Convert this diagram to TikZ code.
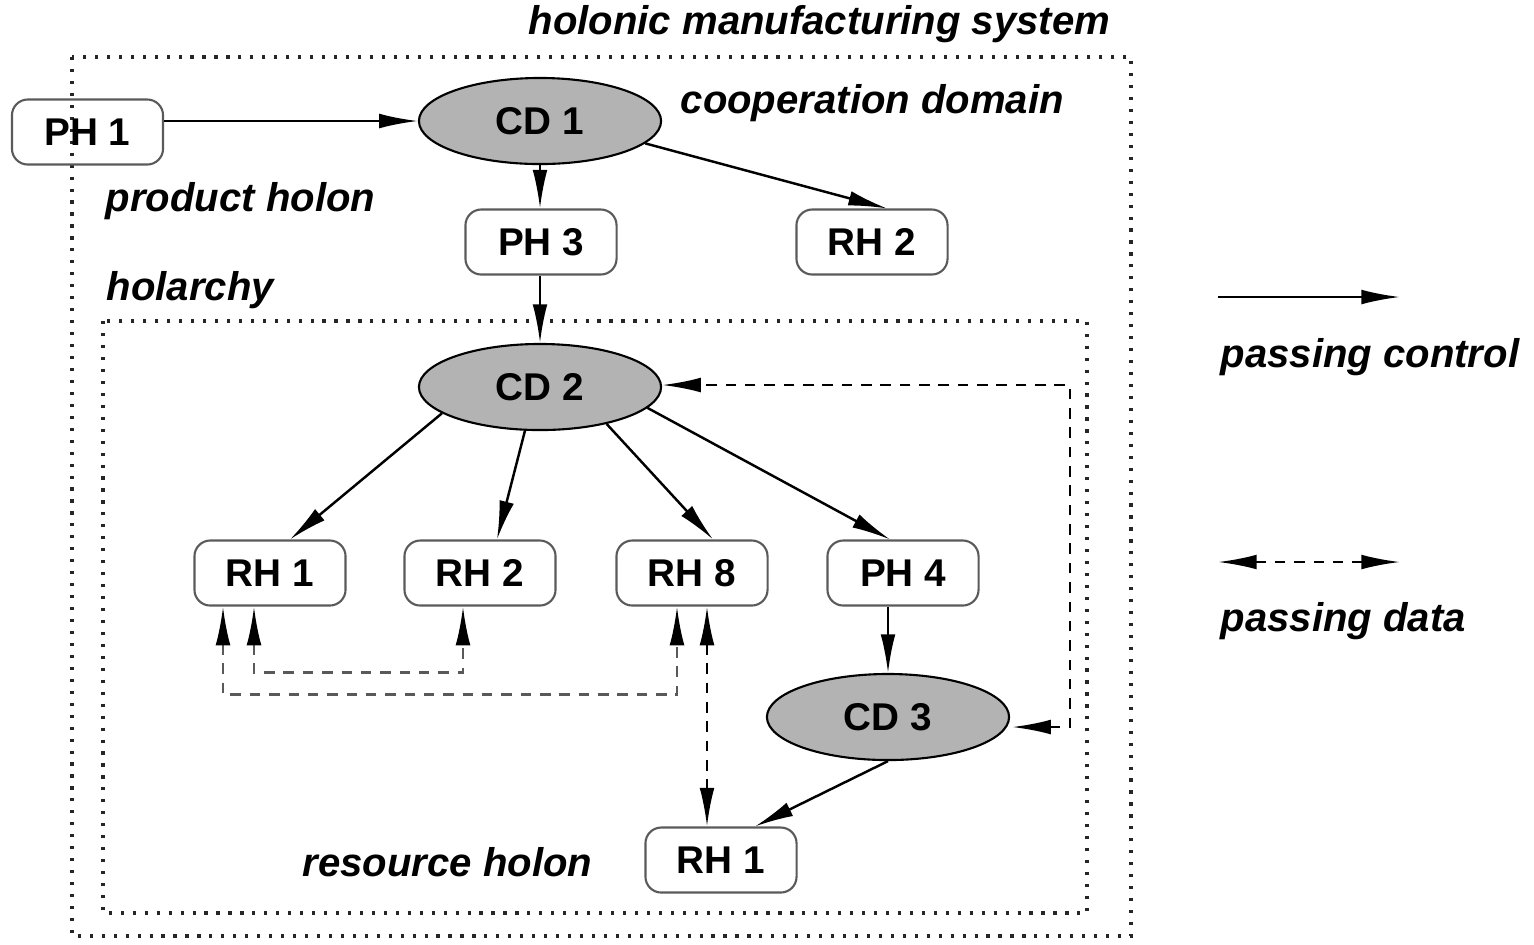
\documentclass[tikz,border=0pt]{standalone}
\usepackage{fontspec}
\setmainfont{Liberation Sans}
\usetikzlibrary{shapes.geometric,arrows.meta,calc}
\definecolor{cdgray}{HTML}{B3B3B3}
\definecolor{boxline}{HTML}{5A5A5A}
\begin{document}
\begin{tikzpicture}[x=0.01cm,y=-0.01cm,
  holon/.style={draw=boxline,line width=0.6pt,rounded corners=4.5pt,minimum width=1.51cm,minimum height=0.65cm,inner sep=0pt,font=\fontsize{11}{13}\selectfont\bfseries},
  cdom/.style={ellipse,draw=black,line width=0.6pt,fill=cdgray,minimum width=2.42cm,minimum height=0.86cm,inner sep=0pt,font=\fontsize{11}{13}\selectfont\bfseries},
  lbl/.style={anchor=west,inner sep=0pt,font=\fontsize{11.4}{13}\selectfont\bfseries\itshape},
  ctrl/.style={line width=0.7pt,-{Latex[length=11pt,width=4.2pt]}},
  data/.style={line width=0.7pt,dash pattern=on 3pt off 2.5pt,{Latex[length=11pt,width=4.2pt,color=black]}-{Latex[length=11pt,width=4.2pt,color=black]}},
  frame/.style={line width=1.1pt,dash pattern=on 0.9pt off 2.5pt,draw=black!85}
]
\useasboundingbox (0,0) rectangle (1534,944);
% frames
\draw[frame] (72,57) rectangle (1131,936);
\draw[frame] (103,321) rectangle (1087,913);
% labels
\node[lbl] (tsys) at (528,24) {holonic manufacturing system};
\node[lbl] (tcoop) at (680,103) {cooperation domain};
\node[lbl] (tprod) at (105,201) {product holon};
\node[lbl] (thol) at (106,290) {holarchy};
\node[lbl] (tres) at (302,862) {resource holon};
\node[lbl] (tctrl) at (1220,357) {passing control};
\node[lbl] (tdata) at (1220,621) {passing data};
% nodes
\node[holon] (ph1) at (87.5,132) {PH 1};
\node[cdom] (cd1) at (540,121) {CD 1};
\node[holon] (ph3) at (541,242) {PH 3};
\node[holon] (rh2a) at (872,242) {RH 2};
\node[cdom] (cd2) at (540,387) {CD 2};
\node[holon] (rh1) at (270,573) {RH 1};
\node[holon] (rh2) at (480,573) {RH 2};
\node[holon] (rh8) at (692,573) {RH 8};
\node[holon] (ph4) at (903,573) {PH 4};
\node[cdom] (cd3) at (888,717) {CD 3};
\node[holon] (rh1b) at (721,860) {RH 1};
% control arrows
\draw[ctrl] (ph1.east |- cd1.west) -- (cd1.west);
\draw[ctrl] (cd1.south) -- (cd1.south |- ph3.north);
\draw[ctrl] (cd1.348) -- ($(rh2a.north)+(15,0)$);
\draw[ctrl] (cd2.north |- ph3.south) -- (cd2.north);
\draw[ctrl] (cd2.195) -- ($(rh1.north)+(20,0)$);
\draw[ctrl] (cd2.251) -- ($(rh2.north)+(17,0)$);
\draw[ctrl] (cd2.331) -- ($(rh8.north)+(21,0)$);
\draw[ctrl] (cd2.349) -- ($(ph4.north)+(-13,0)$);
\draw[ctrl] (ph4.south -| cd3.north) -- (cd3.north);
\draw[ctrl] (cd3.south) -- ($(rh1b.north)+(34,0)$);
% data arrows
\coordinate (d1) at (1070,727);
\coordinate (d2) at (1070,385);
\draw[data] ($(cd3.east |- d1)+(2,0)$) -- (d1) -- (d2) -- (cd2.east |- d2);
\draw[data,draw=black!65] ($(rh1.south)+(-47,0)$) |- ($(rh8.south)+(-15,88)$) -- ($(rh8.south)+(-15,0)$);
\draw[data,draw=black!65] ($(rh1.south)+(-16,0)$) |- ($(rh2.south)+(-17,66)$) -- ($(rh2.south)+(-17,0)$);
\draw[data] ($(rh8.south)+(15,0)$) -- ($(rh1b.north)+(-14,0)$);
% legend
\coordinate (l1a) at (1218,297);
\coordinate (l1b) at (1400,297);
\coordinate (l2a) at (1218,562);
\coordinate (l2b) at (1400,562);
\draw[ctrl] (l1a) -- (l1b);
\draw[data] (l2a) -- (l2b);
\end{tikzpicture}
\end{document}
